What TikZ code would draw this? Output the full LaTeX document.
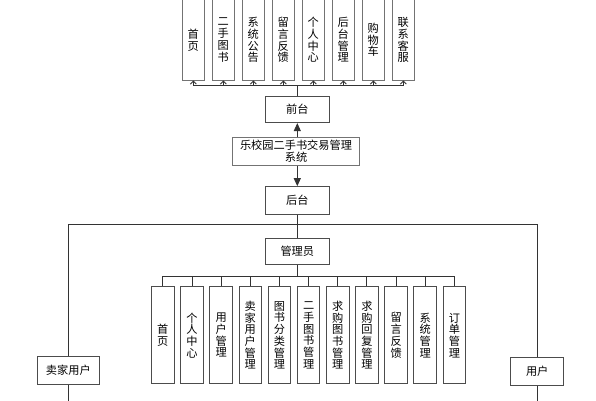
\documentclass[tikz,border=0pt]{standalone}
\usepackage{fontspec}
\newfontfamily\cjk{Noto Sans CJK SC}
\usetikzlibrary{arrows.meta, positioning}
\tikzset{
    cn/.style={font=\cjk\fontsize{11.2}{11.7}\selectfont, align=center},
    box/.style={cn, draw=black!70, line width=1pt, inner sep=0pt, minimum width=64pt, minimum height=26.5pt},
    colbox/.style={cn, draw=black!70, line width=1pt, inner sep=0pt, minimum width=22.5pt, minimum height=97.3pt},
    menubox/.style={draw=black!55, line width=1pt, inner sep=0pt, minimum width=22pt, minimum height=100pt},
    menutext/.style={cn, inner sep=0pt},
    link/.style={draw=black!80, line width=0.9pt},
    arr/.style={link, -{Triangle[length=8pt,width=7pt]}},
    tip/.style={link, -{Straight Barb[length=3pt,width=6pt]}}
}
\begin{document}
\begin{tikzpicture}[x=1pt, y=-1pt]
    \useasboundingbox (0,0) rectangle (596,400);
    \coordinate (topbus) at (297.3, 85.7);
    \coordinate (sidebus) at (297.3, 224.5);
    \coordinate (midbus) at (297.3, 276);
    \coordinate (sellerend) at (68.3, 402);
    \coordinate (userend) at (537.2, 402);
    % front end menu
    \node[menubox] (f1) at (193.3, 30) {};
    \node[menubox] (f2) at (223.3, 30) {};
    \node[menubox] (f3) at (253.3, 30) {};
    \node[menubox] (f4) at (283.3, 30) {};
    \node[menubox] (f5) at (313.3, 30) {};
    \node[menubox] (f6) at (343.3, 30) {};
    \node[menubox] (f7) at (373.3, 30) {};
    \node[menubox] (f8) at (403.3, 30) {};
    \node[menutext] (ft1) at (193.3, 40) {首\\页};
    \node[menutext] (ft2) at (223.3, 40) {二\\手\\图\\书};
    \node[menutext] (ft3) at (253.3, 40) {系\\统\\公\\告};
    \node[menutext] (ft4) at (283.3, 40) {留\\言\\反\\馈};
    \node[menutext] (ft5) at (313.3, 40) {个\\人\\中\\心};
    \node[menutext] (ft6) at (343.3, 40) {后\\台\\管\\理};
    \node[menutext] (ft7) at (373.3, 40) {购\\物\\车};
    \node[menutext] (ft8) at (403.3, 40) {联\\系\\客\\服};
    % main column
    \node[box] (qt) at (297.3, 109.3) {前台};
    \node[box, draw=black!55, minimum width=126.3pt, minimum height=27.7pt] (sys) at (296, 151.2) {乐校园二手书交易管理\\系统};
    \node[box, minimum height=27.6pt] (ht) at (297.3, 200.5) {后台};
    \node[box] (adm) at (297.3, 251.7) {管理员};
    \node[box, minimum width=62pt, minimum height=28pt] (seller) at (68.3, 370) {卖家用户};
    \node[box, minimum width=53pt, minimum height=28pt] (user) at (537.2, 371.7) {用户};
    % admin modules
    \node[colbox] (m1) at (162.8, 335.3) {首\\页};
    \node[colbox] (m2) at (192.0, 335.3) {个\\人\\中\\心};
    \node[colbox] (m3) at (221.1, 335.3) {用\\户\\管\\理};
    \node[colbox] (m4) at (250.3, 335.3) {卖\\家\\用\\户\\管\\理};
    \node[colbox] (m5) at (279.4, 335.3) {图\\书\\分\\类\\管\\理};
    \node[colbox] (m6) at (308.6, 335.3) {二\\手\\图\\书\\管\\理};
    \node[colbox] (m7) at (337.8, 335.3) {求\\购\\图\\书\\管\\理};
    \node[colbox] (m8) at (366.9, 335.3) {求\\购\\回\\复\\管\\理};
    \node[colbox] (m9) at (396.1, 335.3) {留\\言\\反\\馈};
    \node[colbox] (m10) at (425.2, 335.3) {系\\统\\管\\理};
    \node[colbox] (m11) at (454.4, 335.3) {订\\单\\管\\理};
    \draw[link] (qt.north) -- (topbus);
    \draw[tip] (topbus) -| (f1.south);
    \draw[tip] (topbus) -| (f2.south);
    \draw[tip] (topbus) -| (f3.south);
    \draw[tip] (topbus) -| (f4.south);
    \draw[tip] (topbus) -| (f5.south);
    \draw[tip] (topbus) -| (f6.south);
    \draw[tip] (topbus) -| (f7.south);
    \draw[tip] (topbus) -| (f8.south);
    \draw[arr] (sys.north -| qt.south) -- (qt.south);
    \draw[arr] (sys.south -| ht.north) -- (ht.north);
    \draw[link] (ht) -- (adm);
    \draw[link] (seller.north) |- (sidebus) -| (user.north);
    \draw[link] (seller.south) -- (sellerend);
    \draw[link] (user.south) -- (userend);
    \draw[link] (adm.south) -- (midbus);
    \draw[link] (midbus) -| (m1.north);
    \draw[link] (midbus) -| (m2.north);
    \draw[link] (midbus) -| (m3.north);
    \draw[link] (midbus) -| (m4.north);
    \draw[link] (midbus) -| (m5.north);
    \draw[link] (midbus) -| (m6.north);
    \draw[link] (midbus) -| (m7.north);
    \draw[link] (midbus) -| (m8.north);
    \draw[link] (midbus) -| (m9.north);
    \draw[link] (midbus) -| (m10.north);
    \draw[link] (midbus) -| (m11.north);
\end{tikzpicture}
\end{document}
